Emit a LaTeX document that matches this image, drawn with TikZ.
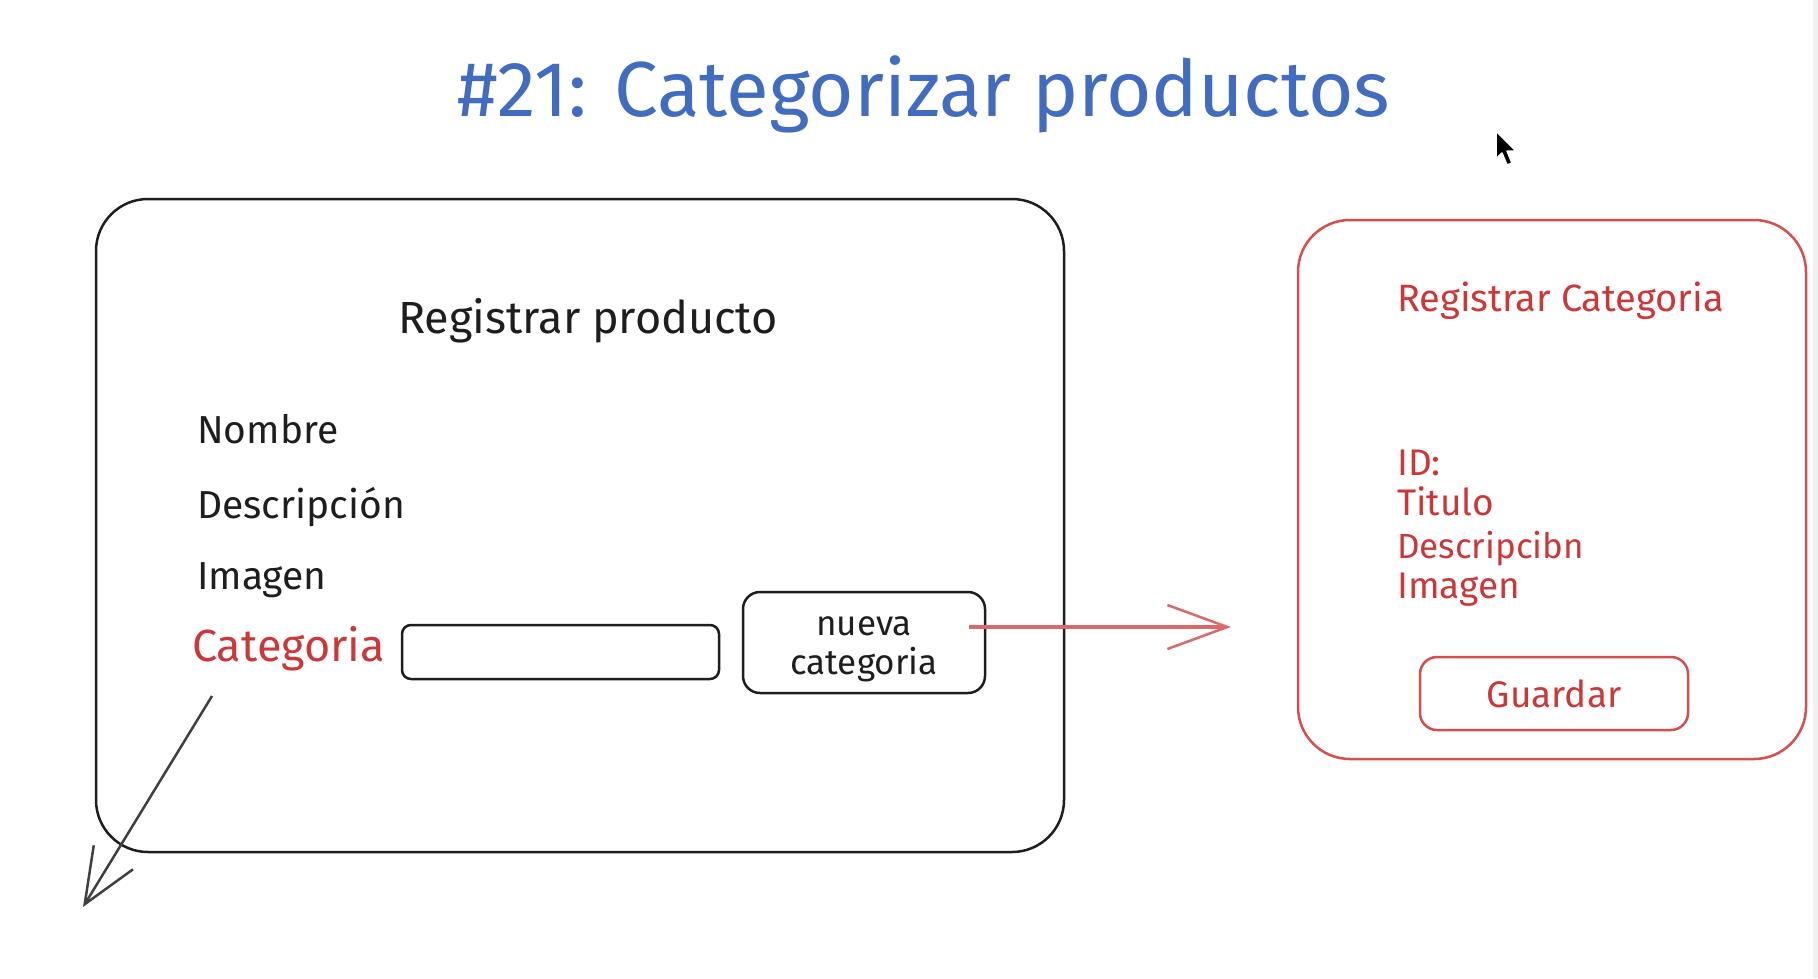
\documentclass[tikz,border=0pt]{standalone}
\usepackage{fontspec}
\setmainfont{Fira Sans}
\usetikzlibrary{arrows.meta,calc}
\definecolor{ttlblue}{RGB}{66,108,192}
\definecolor{skred}{RGB}{204,56,56}
\definecolor{boxred}{RGB}{214,78,78}
\definecolor{ink}{RGB}{30,30,30}
\tikzset{
  skbox/.style={draw=ink, line width=2.5pt, rounded corners=#1, inner sep=0pt},
  skbox/.default=52pt,
  redbox/.style={draw=boxred, line width=2.5pt, rounded corners=#1, inner sep=0pt},
  redbox/.default=52pt,
  lbl/.style={anchor=base west, inner sep=0pt, text=ink, font=\fontsize{39pt}{46pt}\selectfont},
  rlbl/.style={anchor=base west, inner sep=0pt, text=skred, font=\fontsize{37pt}{44pt}\selectfont},
}
\begin{document}
\begin{tikzpicture}[x=1pt,y=-1pt]
\useasboundingbox (0,0) rectangle (1818,978);
\fill[white] (0,0) rectangle (1818,978);
\fill[black!6] (1813,0) rectangle (1818,978);
% title
\node[anchor=base, inner sep=0pt, text=ttlblue, font=\fontsize{78pt}{90pt}\selectfont] (title) at (924,116) {\#21: Categorizar productos};
% main box
\node[skbox, minimum width=968pt, minimum height=653pt] (main) at (580,525.5) {};
\node[anchor=base, inner sep=0pt, text=ink, font=\fontsize{45pt}{52pt}\selectfont] (rp) at (588,333) {Registrar producto};
\node[lbl] (nom) at (197,443) {Nombre};
\node[lbl] (desc) at (197,518) {Descripción};
\node[lbl] (img) at (197,589) {Imagen};
\node[lbl, text=skred, font=\fontsize{45pt}{50pt}\selectfont] (cat) at (192,661) {Categoria};
\node[skbox=9pt, minimum width=317pt, minimum height=54pt] (inp) at (560.5,652) {};
\node[skbox=17pt, minimum width=242pt, minimum height=101pt] (btn) at (864,642.5) {};
\node[inner sep=0pt, align=center, text=ink, font=\fontsize{35pt}{39pt}\selectfont] (btntxt) at ($(btn.center)+(0,7)$) {nueva\\categoria};
% right box
\node[redbox, minimum width=508pt, minimum height=539pt] (reg) at (1552,489.5) {};
\node[rlbl, font=\fontsize{38pt}{44pt}\selectfont] (rc) at (1397,311) {Registrar Categoria};
\node[rlbl] (rid) at (1397,475) {ID:};
\node[rlbl] (rtit) at (1397,515) {Titulo};
\node[rlbl, font=\fontsize{35pt}{44pt}\selectfont] (rdesc) at (1397,558) {Descripcibn};
\node[rlbl] (rimg) at (1397,598) {Imagen};
\node[redbox=17pt, minimum width=268pt, minimum height=73pt, text=skred, font=\fontsize{37pt}{42pt}\selectfont] (guard) at (1554,693.5) {Guardar};
% arrows
\coordinate (rend) at (1231,627);
\draw[draw=boxred!85, line width=3.5pt, -{Straight Barb[length=60pt,width=44pt,line width=2.5pt]}] ($(btn.east)+(-17,-15.5)$) -- (rend);
\coordinate (b0) at (212,696);
\coordinate (b1) at (83,907);
\draw[draw=ink!85, line width=2.5pt, -{Straight Barb[length=55pt,width=46pt,line width=2.5pt]}] (b0) -- (b1);
% cursor
\filldraw[fill=black, draw=white, line width=1.5pt, line join=round] (1496,131) -- (1496,159) -- (1502,153) -- (1507,165) -- (1512,163) -- (1507,151) -- (1516,151) -- cycle;
\end{tikzpicture}
\end{document}
